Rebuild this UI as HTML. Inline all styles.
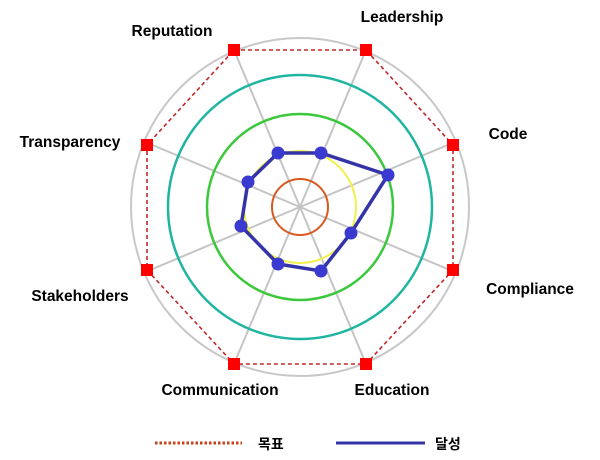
<!DOCTYPE html>
<html><head><meta charset="utf-8"><style>
html,body{margin:0;padding:0;background:#fff;width:600px;height:460px;overflow:hidden}
text{font-family:"Liberation Sans","Noto Sans CJK KR",sans-serif;font-weight:bold;font-size:15.5px;fill:#000}
</style></head><body>
<svg width="600" height="460" viewBox="0 0 600 460">
<g stroke="#c4c4c4" stroke-width="2">
<line x1="300" y1="207" x2="234" y2="50"/><line x1="300" y1="207" x2="366" y2="50"/>
<line x1="300" y1="207" x2="457" y2="141"/><line x1="300" y1="207" x2="457" y2="273"/>
<line x1="300" y1="207" x2="366" y2="364"/><line x1="300" y1="207" x2="234" y2="364"/>
<line x1="300" y1="207" x2="143" y2="273"/><line x1="300" y1="207" x2="143" y2="141"/>
</g>
<circle cx="300" cy="207" r="169" fill="none" stroke="#c8c8c8" stroke-width="2"/>
<circle cx="300" cy="207" r="132" fill="none" stroke="#1fb5a0" stroke-width="2.5"/>
<circle cx="300" cy="207" r="93" fill="none" stroke="#3cc83c" stroke-width="2.5"/>
<circle cx="300" cy="207" r="56" fill="none" stroke="#f2f04a" stroke-width="2"/>
<circle cx="300" cy="207" r="28" fill="none" stroke="#d85a20" stroke-width="2"/>
<polygon points="234,50 366,50 453,145 453,270 366,364 234,364 147,270 147,145" fill="none" stroke="#c0282a" stroke-width="1.6" stroke-dasharray="4,3"/>
<g fill="#f00">
<rect x="228" y="44" width="12" height="12"/><rect x="360" y="44" width="12" height="12"/>
<rect x="447" y="139" width="12" height="12"/><rect x="447" y="264" width="12" height="12"/>
<rect x="360" y="358" width="12" height="12"/><rect x="228" y="358" width="12" height="12"/>
<rect x="141" y="264" width="12" height="12"/><rect x="141" y="139" width="12" height="12"/>
</g>
<polygon points="278,153 321,153 388,175 351,233 321,271 278,264 241,226 248,182" fill="none" stroke="#3434a8" stroke-width="3.5"/>
<g fill="#3a3ad0">
<circle cx="278" cy="153" r="6.5"/><circle cx="321" cy="153" r="6.5"/><circle cx="388" cy="175" r="6.5"/><circle cx="351" cy="233" r="6.5"/>
<circle cx="321" cy="271" r="6.5"/><circle cx="278" cy="264" r="6.5"/><circle cx="241" cy="226" r="6.5"/><circle cx="248" cy="182" r="6.5"/>
</g>
<text x="172" y="36" text-anchor="middle">Reputation</text>
<text x="402" y="22" text-anchor="middle">Leadership</text>
<text x="508" y="139" text-anchor="middle">Code</text>
<text x="530" y="294" text-anchor="middle">Compliance</text>
<text x="70" y="147" text-anchor="middle">Transparency</text>
<text x="80" y="301" text-anchor="middle">Stakeholders</text>
<text x="220" y="395" text-anchor="middle">Communication</text>
<text x="392" y="395" text-anchor="middle">Education</text>
<line x1="155" y1="443" x2="242" y2="443" stroke="#c8401a" stroke-width="3" stroke-dasharray="2.5,2"/>
<text x="258" y="449" style="font-size:14px">목표</text>
<line x1="336" y1="443" x2="425" y2="443" stroke="#3434a8" stroke-width="3"/>
<text x="435" y="449" style="font-size:14px">달성</text>
</svg>
</body></html>
